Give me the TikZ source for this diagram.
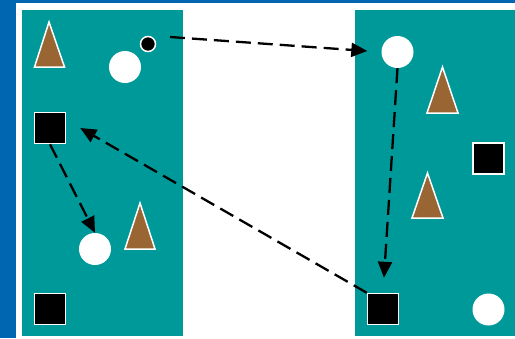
\documentclass[tikz,border=0pt]{standalone}
\usetikzlibrary{arrows.meta}
\definecolor{bgblue}{HTML}{0066B2}
\definecolor{teal2}{HTML}{009999}
\definecolor{brown2}{HTML}{996633}
\begin{document}
\begin{tikzpicture}[x=1pt,y=-1pt,
  dot/.style={circle,fill=white,minimum size=32pt,inner sep=0pt},
  smalldot/.style={circle,fill=black,draw=white,line width=1.5pt,minimum size=15pt,inner sep=0pt},
  sq/.style={rectangle,fill=black,draw=white,line width=1.5pt,minimum size=31pt,inner sep=0pt},
  tri/.style={fill=brown2,draw=white,line width=1.5pt,line join=miter},
  conn/.style={draw=black,line width=2.3pt,dash pattern=on 15pt off 7pt,-{Triangle[length=16pt,width=14pt]}}]
\useasboundingbox (0,0) rectangle (515,338);
\fill[white] (0,0) rectangle (515,338);
\fill[bgblue] (0,0) rectangle (16,338);
\fill[bgblue] (0,0) rectangle (515,3);
\fill[teal2] (22,10) rectangle (183,336);
\fill[teal2] (355,10) rectangle (515,336);
% triangles
\draw[tri] (49,22) -- (64.5,67) -- (34.5,67) -- cycle;
\draw[tri] (140,203) -- (155,249) -- (125,249) -- cycle;
\draw[tri] (442.5,67) -- (458,113) -- (427,113) -- cycle;
\draw[tri] (427.5,173) -- (443,218) -- (412,218) -- cycle;
% nodes
\node[smalldot] (sc) at (148,44) {};
\node[dot] (c1) at (125,67) {};
\node[sq] (lsq1) at (50,128) {};
\node[dot] (c2) at (95,249) {};
\node[sq] (lsq2) at (50,309) {};
\node[dot] (rc) at (397.5,52) {};
\node[sq] (rsq1) at (488.5,158.5) {};
\node[sq] (rsq2) at (383,309) {};
\node[dot] (rc2) at (488.5,309.5) {};
\coordinate (a1s) at (170,37);
% connectors
\draw[conn,shorten >=14pt] (a1s) -- (rc.west);
\draw[conn,shorten >=15pt] (rc.south) -- (rsq2.north);
\draw[conn] (rsq2.north west) -- ([xshift=14pt]lsq1.east);
\draw[conn] (lsq1.south) -- (c2.north);
\end{tikzpicture}
\end{document}
